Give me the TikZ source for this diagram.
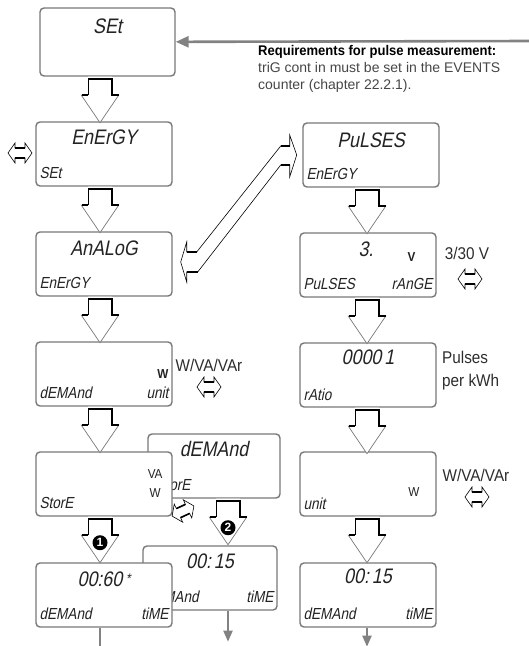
\documentclass[tikz,border=0pt]{standalone}
\usepackage{fontspec}
\setmainfont{Liberation Sans}
\newfontfamily\lcdfont[FakeSlant=0.2,FakeStretch=0.85]{Liberation Sans}
\newfontfamily\narrowfont[FakeStretch=0.9]{Liberation Sans}
\newfontfamily\notefont[FakeStretch=0.93]{Liberation Sans}
\usetikzlibrary{arrows.meta, positioning, calc}
\definecolor{cFrame}{RGB}{120,120,120}
\definecolor{cLcd}{RGB}{35,35,35}
\definecolor{cLabel}{RGB}{45,45,45}
\definecolor{cNote}{RGB}{70,70,70}
\definecolor{cLine}{RGB}{130,130,130}
\tikzset{
  %% display boxes
  lcdbox/.style={rectangle, rounded corners=4pt, draw=cFrame, fill=white,
                 line width=1.4pt, minimum width=136pt, minimum height=64pt,
                 inner sep=0pt},
  %% display texts
  lcdbig/.style={inner sep=0pt, text=cLcd, font=\lcdfont\fontsize{21}{21}\selectfont},
  lcdsmall/.style={inner sep=0pt, text=cLcd, font=\lcdfont\fontsize{16}{16}\selectfont},
  lcdunit/.style={inner sep=0pt, text=cLcd, align=center,
                  font=\narrowfont\fontsize{13}{19}\selectfont},
  lcdunitb/.style={lcdunit, font=\narrowfont\bfseries\fontsize{13}{13}\selectfont},
  %% labels beside the boxes
  sidelabel/.style={inner sep=0pt, text=cLabel, align=left,
                    font=\narrowfont\fontsize{17}{23}\selectfont},
  %% numbered bubble on a step arrow
  stepnum/.style={circle, fill=black, text=white, inner sep=0pt, minimum size=15pt,
                  font=\bfseries\fontsize{12}{12}\selectfont},
  %% gray connectors
  feedarrow/.style={draw=cLine, line width=2.6pt, -{Triangle[length=13pt, width=11pt]}},
  exitline/.style={draw=cLine, line width=2pt},
  exitarrow/.style={exitline, -{Triangle[length=11pt, width=9pt]}},
  %% hollow step arrow pointing down
  stepdown/.pic={
    \fill[white] (-12,0) -- (12,0) -- (12,18) -- (19,18) -- (0,46) -- (-19,18)
      -- (-12,18) -- cycle;
    \draw[cFrame, line width=0.7pt] (-19,18) -- (0,46) -- (19,18);
    \draw[line width=0.8pt] (-12,2) -- (-12,18);
    \draw[line width=2.2pt] (-12,2) -- (12,2) -- (12,18) -- (19,18);
    \draw[line width=1.8pt] (-12,18) -- (-18,18);
  },
  %% hollow left-right arrow
  swapsign/.pic={
    \draw[fill=white, line width=0.6pt] (-12,0) -- (-5,-10) -- (-5,-5) -- (5,-5)
      -- (5,-10) -- (12,0) -- (5,10) -- (5,5) -- (-5,5) -- (-5,10) -- cycle;
    \draw[line width=1.6pt] (-5,-5) -- (5,-5) (-5,5) -- (5,5);
  },
}

\begin{document}
\begin{tikzpicture}[x=1pt, y=-1pt]
\useasboundingbox (0,0) rectangle (529,646);

%% ============================================================
%%  COLUMN POSITIONS
%% ============================================================
\def\Lx{104}
\def\Rx{368}
\coordinate (colL) at (100,0);
\coordinate (colM) at (228,0);
\coordinate (colR) at (367,0);

%% ----- Start box -----
\node[lcdbox, minimum width=135pt, minimum height=68pt] (set) at (107.5,42) {};
\node[lcdbig, below=11pt of set.north] (setT) {SEt};

%% ============================================================
%%  LEFT COLUMN
%% ============================================================
\node[lcdbox] (energy) at (\Lx,154) {};
\node[lcdbig, below=8pt of energy.north] (energyT) {EnErGY};
\node[lcdsmall, above right=8pt and 4pt of energy.south west] (energyS) {SEt};

\node[lcdbox] (analog) at (\Lx,264) {};
\node[lcdbig, below=9pt of analog.north] (analogT) {AnALoG};
\node[lcdsmall, above right=8pt and 4pt of analog.south west] (analogS) {EnErGY};

\node[lcdbox] (demand) at (\Lx,374) {};
\node[lcdunitb, left=4pt of demand.east] (demandU) {W};
\node[lcdsmall, above right=8pt and 4pt of demand.south west] (demandS) {dEMAnd};
\node[lcdsmall, above left=8pt and 4pt of demand.south east] (demandR) {unit};

%% ----- boxes of the second branch (behind) -----
\node[lcdbox, minimum width=132pt] (demandB) at (214,466) {};
\node[lcdbig, below=8pt of demandB.north] (demandBT) {dEMAnd};
\node[lcdsmall, above right=8pt and 9pt of demandB.south west] (demandBS) {StorE};

\node[lcdbox, minimum width=134pt] (timeB) at (210,578) {};
\node[lcdbig, below=8pt of timeB.north] (timeBT) {00:\kern3pt 15};
\node[lcdsmall, above right=8pt and 4pt of timeB.south west] (timeBS) {dEMAnd};
\node[lcdsmall, above left=8pt and 4pt of timeB.south east] (timeBR) {tiME};

%% ----- front boxes -----
\node[lcdbox] (store) at (\Lx,484) {};
\node[lcdunit, left=10pt of store.east] (storeU) {VA\\W};
\node[lcdsmall, above right=8pt and 4pt of store.south west] (storeS) {StorE};

\node[lcdbox] (dtime) at (\Lx,595) {};
\node[lcdbig, below=9pt of dtime.north] (dtimeT)
  {00:60\,\raisebox{3pt}{\fontsize{14}{14}\selectfont *}};
\node[lcdsmall, above right=8pt and 4pt of dtime.south west] (dtimeS) {dEMAnd};
\node[lcdsmall, above left=8pt and 4pt of dtime.south east] (dtimeR) {tiME};

%% ============================================================
%%  RIGHT COLUMN
%% ============================================================
\node[lcdbox] (pulses) at (\Rx+3,155) {};
\node[lcdbig, below=10pt of pulses.north] (pulsesT) {PuLSES};
\node[lcdsmall, above right=8pt and 4pt of pulses.south west] (pulsesS) {EnErGY};

\node[lcdbox] (prange) at (\Rx,265) {};
\node[lcdbig, below=9pt of prange.north, xshift=-2pt] (prangeT) {3.};
\node[lcdunitb, left=21pt of prange.east, yshift=8pt] (prangeU) {V};
\node[lcdsmall, above right=8pt and 4pt of prange.south west] (prangeS) {PuLSES};
\node[lcdsmall, above left=8pt and 4pt of prange.south east] (prangeR) {rAnGE};

\node[lcdbox] (ratio) at (\Rx,375) {};
\node[lcdbig, below=7pt of ratio.north] (ratioT) {0000\kern3pt 1};
\node[lcdsmall, above right=7pt and 4pt of ratio.south west] (ratioS) {rAtio};

\node[lcdbox] (punit) at (\Rx,484) {};
\node[lcdunit, left=17pt of punit.east, yshift=-8pt] (punitU) {W};
\node[lcdsmall, above right=7pt and 4pt of punit.south west] (punitS) {unit};

\node[lcdbox] (ptime) at (\Rx,595) {};
\node[lcdbig, below=6pt of ptime.north] (ptimeT) {00:\kern3pt 15};
\node[lcdsmall, above right=8pt and 4pt of ptime.south west] (ptimeS) {dEMAnd};
\node[lcdsmall, above left=8pt and 4pt of ptime.south east] (ptimeR) {tiME};

%% ============================================================
%%  STEP ARROWS
%% ============================================================
\pic at (set.south -| colL) {stepdown};
\pic at (energy.south -| colL) {stepdown};
\pic at (analog.south -| colL) {stepdown};
\pic at (demand.south -| colL) {stepdown};
\pic at (store.south -| colL) {stepdown};
\node[stepnum] (num1) at ($(store.south -| colL)+(0,26)$) {1};
\pic at (demandB.south -| colM) {stepdown};
\node[stepnum] (num2) at ($(demandB.south -| colM)+(0,29)$) {2};

\pic at (pulses.south -| colR) {stepdown};
\pic at (prange.south -| colR) {stepdown};
\pic at (ratio.south -| colR) {stepdown};
\pic at (punit.south -| colR) {stepdown};

%% ----- double arrow AnALoG <-> PuLSES -----
\coordinate (dblA) at ($(analog.east)+(8,-2)$);
\draw[fill=white, line width=0.6pt] (dblA) -- ++(6,-20) -- ++(0,10) -- ++(10,0)
  -- ++(84,-106) -- ++(9,0) -- ++(0,-11) -- ++(7,20) -- ++(-7,22) -- ++(0,-12)
  -- ++(-9,0) -- ++(-83,107) -- ++(-11,0) -- ++(0,10) -- cycle;
\draw[line width=1.8pt] ($(dblA)+(6,-10)$) -- ++(10,0)
  ($(dblA)+(100,-116)$) -- ++(9,0)
  ($(dblA)+(100,-97)$) -- ++(9,0)
  ($(dblA)+(6,10)$) -- ++(11,0);

%% ============================================================
%%  SELECTION SIGNS AND LABELS
%% ============================================================
\pic at (20,153) {swapsign};
\pic[rotate=25] at (183,511) {swapsign};

\node[sidelabel] (unitsL) at (209,365) {W/VA/VAr};
\pic at (209,387) {swapsign};

\node[sidelabel] (rangeL) at (467,253) {3/30 V};
\pic at (470,279) {swapsign};

\node[sidelabel, anchor=west] (pulsesL) at (442,371) {Pulses\\per kWh};

\node[sidelabel] (unitsR) at (476,475) {W/VA/VAr};
\pic at (477,497) {swapsign};

%% ----- note -----
\node[anchor=north west, align=left, inner sep=0pt, text=cNote,
      font=\fontsize{14}{17}\selectfont] (req) at (258,45)
  {{\notefont\bfseries\color{black}Requirements for pulse measurement:}\\
   triG cont in must be set in the EVENTS\\
   counter (chapter 22.2.1).};

%% ============================================================
%%  GRAY CONNECTORS
%% ============================================================
\coordinate (feed) at (529,41);
\draw[feedarrow] (feed) -- (set);
\draw[exitline] (dtime.south -| colL) -- ++(0,20);
\draw[exitarrow] (timeB.south -| colM) -- ++(0,31);
\draw[exitarrow] (ptime.south -| colR) -- ++(0,19);

\end{tikzpicture}
\end{document}
